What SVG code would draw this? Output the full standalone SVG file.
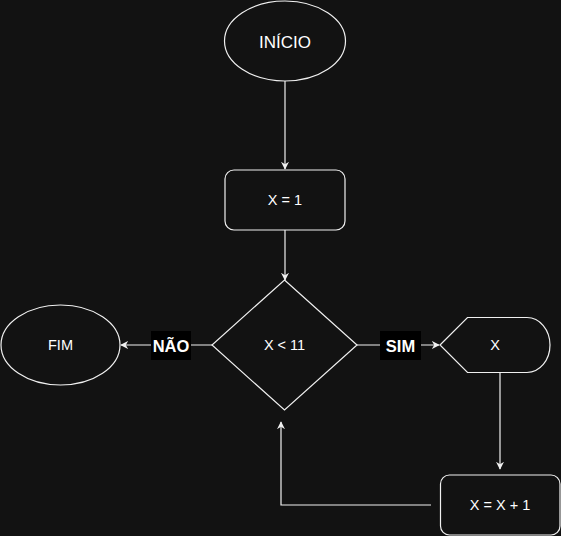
<svg xmlns="http://www.w3.org/2000/svg" width="561" height="536" viewBox="0 0 561 536">
<style>
.shape{fill:#121212;stroke:#f0f0f0;stroke-width:1.2}
.edge{fill:none;stroke:#f0f0f0;stroke-width:1.2}
.t{font-family:"Liberation Sans",Arial,sans-serif;font-size:14.5px;fill:#ffffff;text-anchor:middle;dominant-baseline:central}
.b{font-family:"Liberation Sans",Arial,sans-serif;font-size:16.5px;font-weight:bold;fill:#ffffff;text-anchor:middle;dominant-baseline:central}
.lbl{fill:#000000}
</style>
<defs>
<marker id="arr" viewBox="0 0 10 10" refX="9" refY="5" markerWidth="8" markerHeight="8" markerUnits="userSpaceOnUse" orient="auto">
<path d="M0,0 L10,5 L0,10 L3,5 Z" fill="#f0f0f0"/>
</marker>
</defs>
<rect x="0" y="0" width="561" height="536" fill="#121212"/>
<g id="connectors">
<path class="edge" d="M285,81 L285,169" marker-end="url(#arr)"/>
<path class="edge" d="M285,230 L285,280" marker-end="url(#arr)"/>
<path class="edge" d="M212,345 L121,345" marker-end="url(#arr)"/>
<path class="edge" d="M357,345 L439,345" marker-end="url(#arr)"/>
<path class="edge" d="M500,372.5 L500,469" marker-end="url(#arr)"/>
<path class="edge" d="M431,505 L281,505 L281,422" marker-end="url(#arr)"/>
<rect class="lbl" x="151" y="331" width="40" height="29"/>
<text class="b" x="171" y="346">NÃO</text>
<rect class="lbl" x="380" y="331" width="41" height="29"/>
<text class="b" x="400.5" y="346">SIM</text>
</g>
<g id="inicio">
<ellipse class="shape" cx="285" cy="41" rx="60.5" ry="40"/>
<text class="t" x="285" y="42" style="font-size:17px">INÍCIO</text>
</g>
<g id="x1">
<rect class="shape" x="225" y="170" width="120" height="60" rx="9"/>
<text class="t" x="285" y="200">X = 1</text>
</g>
<g id="decisao">
<path class="shape" d="M284.5,280 L357,345 L284.5,410 L212,345 Z"/>
<text class="t" x="284.5" y="345">X &lt; 11</text>
</g>
<g id="fim">
<ellipse class="shape" cx="60.5" cy="345" rx="59.5" ry="40"/>
<text class="t" x="60.5" y="345">FIM</text>
</g>
<g id="display">
<path class="shape" d="M440,345 L467.5,317.5 L527,317.5 A23,27.5 0 0 1 527,372.5 L467.5,372.5 Z"/>
<text class="t" x="495" y="345">X</text>
</g>
<g id="incremento">
<rect class="shape" x="440.5" y="475" width="119.5" height="60" rx="9"/>
<text class="t" x="500" y="505">X = X + 1</text>
</g>
</svg>
